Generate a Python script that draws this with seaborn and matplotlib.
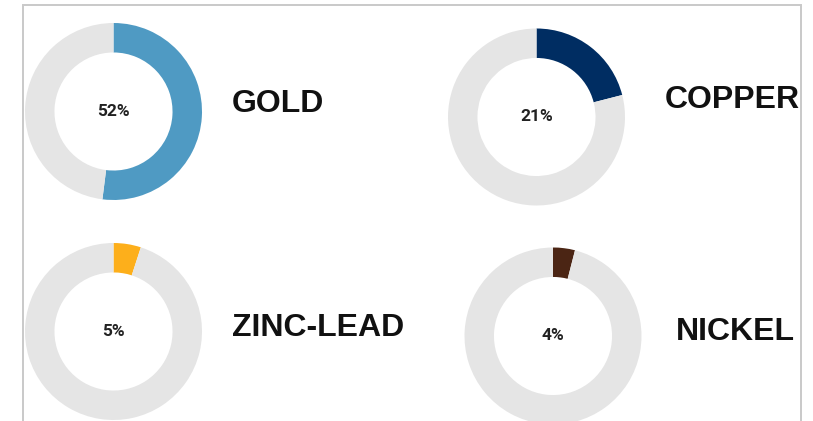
import matplotlib
matplotlib.use("Agg")
import matplotlib.pyplot as plt
from matplotlib.patches import Rectangle
import seaborn as sns

# share of each mineral (percent)
minerals = ["GOLD", "COPPER", "ZINC-LEAD", "NICKEL"]
shares = [52, 21, 5, 4]
colors = ["#4F9AC3", "#002D62", "#FDAF1B", "#4B2514"]
rest_color = "#E5E5E5"

# donut centres / label anchors in figure pixels (y from top)
centers = [(113.5, 111.5), (536.5, 117), (113.5, 331.5), (553, 336)]
label_pos = [(232, 104), (665, 100), (232, 328), (676, 332)]
R = 88.5

sns.set_style("white")

W, H = 813, 421
fig = plt.figure(figsize=(W / 100, H / 100), dpi=100)
fig.patch.set_facecolor("white")

# light frame around the panel
fig.add_artist(Rectangle((23 / W, -0.1), (801 - 23) / W, 1.1 - 5 / H,
                         transform=fig.transFigure, fill=False,
                         edgecolor="#C9C9C9", linewidth=1.4))

for name, val, col, (cx, cy), (lx, ly) in zip(minerals, shares, colors, centers, label_pos):
    ax = fig.add_axes([(cx - R) / W, 1 - (cy + R) / H, 2 * R / W, 2 * R / H])
    ax.pie([val, 100 - val], colors=[col, rest_color], startangle=90,
           counterclock=False, radius=1,
           wedgeprops=dict(width=0.333, linewidth=0))
    ax.set_xlim(-1, 1)
    ax.set_ylim(-1, 1)
    ax.set_aspect("equal")
    ax.axis("off")
    for p in ax.patches:
        p.set_clip_on(False)
    ax.text(0, 0, f"{val}%", ha="center", va="center", fontsize=12.5,
            family="Roboto", fontweight="bold", color="#222222")
    fig.text(lx / W, 1 - ly / H, name, ha="left", va="center", fontsize=23,
             family="Liberation Sans", fontweight="bold", color="#111111")

fig.savefig("out.png", dpi=100)
